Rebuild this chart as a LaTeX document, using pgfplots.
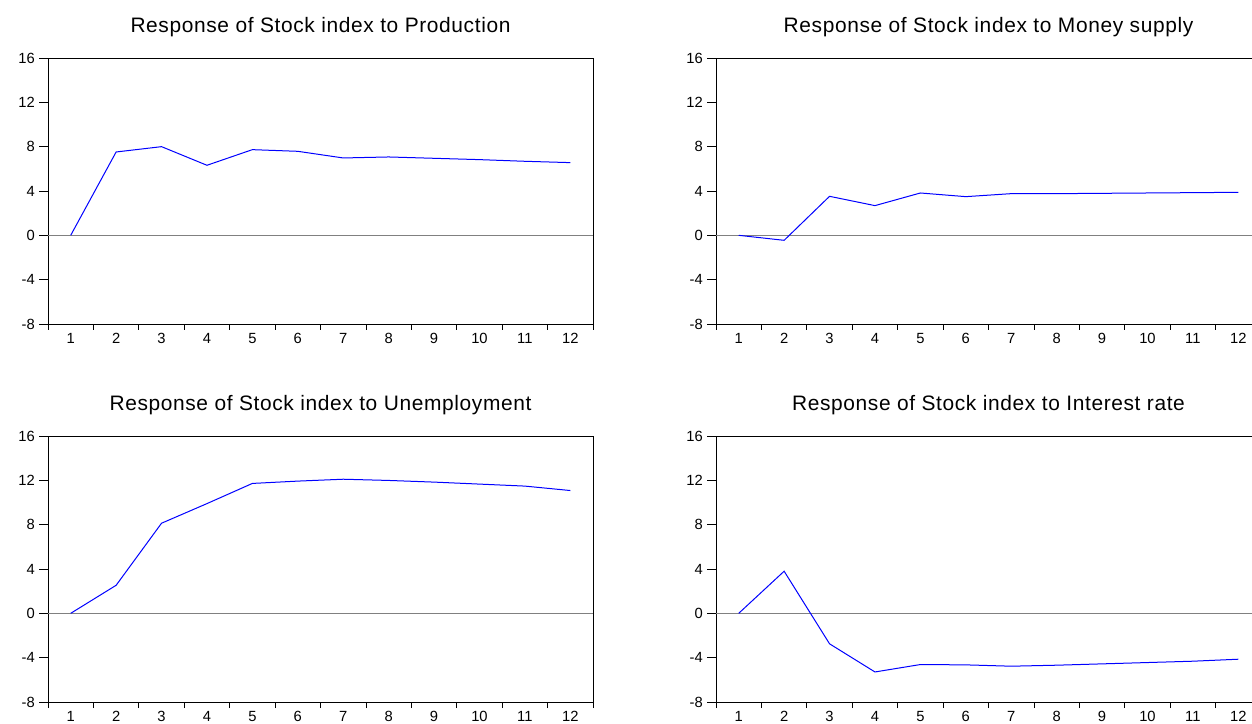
\documentclass[border=0pt]{standalone}
\usepackage{fontspec}
\setmainfont{Liberation Sans}
\newfontfamily\titlefont{Liberation Sans}[LetterSpace=3]
\usepackage{pgfplots}
\pgfplotsset{compat=1.18}
\pgfplotsset{
  irf/.style={
    scale only axis, width=545bp, height=266bp,
    anchor=south west,
    xmin=0.5, xmax=12.5, ymin=-8, ymax=16,
    xtick={1,...,12},
    xticklabels={1,2,3,4,5,6,7,8,9,10,11,12},
    minor xtick={0.5,1.5,...,12.5},
    ytick={-8,-4,0,4,8,12,16},
    yticklabels={-8,-4,0,4,8,12,16},
    major x tick style={draw=none},
    tick align=outside, tick pos=left,
    major tick length=9bp, minor tick length=6bp,
    every tick/.append style={black, line width=0.8bp},
    axis line style={black, line width=0.9bp},
    tick label style={font=\fontsize{14.8}{14.8}\selectfont, inner sep=0pt},
    xticklabel style={anchor=north, yshift=-0.5bp},
    yticklabel style={anchor=east, xshift=-4bp},
    title style={at={(0.5,1)}, anchor=base, yshift=20bp, inner sep=0pt,
      font=\titlefont\fontsize{21}{21}\selectfont},
  },
  zero/.style={gray, line width=1.2bp, forget plot},
  irfline/.style={blue, line width=1bp, mark=none},
}
\begin{document}
\begin{tikzpicture}
\useasboundingbox (0,0) rectangle (1252bp,724bp);
\begin{axis}[irf, at={(48bp,400bp)}, title={Response of Stock index to Production}]
\addplot[zero] coordinates {(0.5,0) (12.5,0)};
\addplot[irfline] coordinates {(1,0)(2,7.52)(3,8.0)(4,6.32)(5,7.73)(6,7.58)(7,6.98)(8,7.07)(9,6.95)(10,6.83)(11,6.68)(12,6.56)};
\end{axis}
\begin{axis}[irf, at={(716bp,400bp)}, title={Response of Stock index to Money supply}]
\addplot[zero] coordinates {(0.5,0) (12.5,0)};
\addplot[irfline] coordinates {(1,0)(2,-0.45)(3,3.52)(4,2.68)(5,3.82)(6,3.49)(7,3.76)(8,3.76)(9,3.79)(10,3.82)(11,3.85)(12,3.88)};
\end{axis}
\begin{axis}[irf, at={(48bp,22bp)}, title={Response of Stock index to Unemployment}]
\addplot[zero] coordinates {(0.5,0) (12.5,0)};
\addplot[irfline] coordinates {(1,0)(2,2.53)(3,8.13)(4,9.9)(5,11.72)(6,11.93)(7,12.1)(8,11.99)(9,11.84)(10,11.66)(11,11.48)(12,11.08)};
\end{axis}
\begin{axis}[irf, at={(716bp,22bp)}, title={Response of Stock index to Interest rate}]
\addplot[zero] coordinates {(0.5,0) (12.5,0)};
\addplot[irfline] coordinates {(1,0)(2,3.8)(3,-2.75)(4,-5.29)(5,-4.62)(6,-4.65)(7,-4.77)(8,-4.68)(9,-4.56)(10,-4.44)(11,-4.32)(12,-4.14)};
\end{axis}
\end{tikzpicture}
\end{document}
